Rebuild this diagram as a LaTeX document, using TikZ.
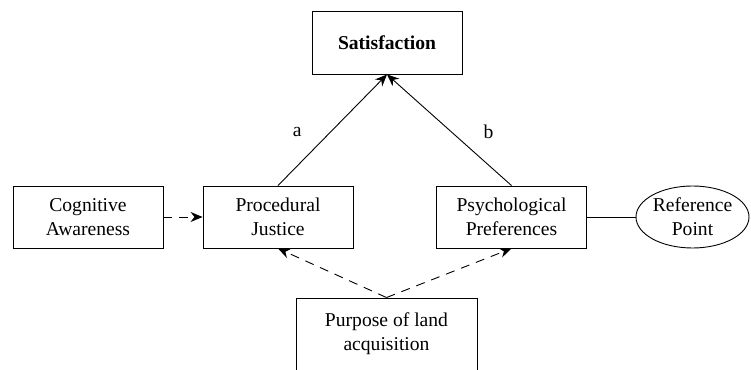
\documentclass[tikz,border=0pt]{standalone}
\usepackage{fontspec}
\setmainfont{Liberation Serif}
\usetikzlibrary{arrows.meta,shapes.geometric}
\begin{document}
\begin{tikzpicture}[x=1pt,y=1pt,line width=0.9pt]
            \tikzset{
                box/.style={draw,rectangle,minimum width=150pt,minimum height=62pt,align=center,inner sep=0pt},
                oval/.style={draw,ellipse,minimum width=113pt,minimum height=62pt,align=center,inner sep=0pt},
                path arrow/.style={-{Stealth[length=12pt,width=10pt]}},
                dash arrow/.style={-{Stealth[length=12pt,width=10pt]},dash pattern=on 9pt off 7pt},}
            \def\txt{\fontsize{19.6}{24}\selectfont}
            \clip (0,0) rectangle (751,369);
            \node [box,minimum height=63pt,font=\txt\bfseries] (sat) at (387,326.5) {Satisfaction};
            \node [box,font=\txt] (cog) at (88,152) {Cognitive\\Awareness};
            \node [box,font=\txt] (proc) at (278,152) {Procedural\\Justice};
            \node [box,font=\txt] (psych) at (511.5,152) {Psychological\\Preferences};
            \node [oval,font=\txt] (ref) at (692.5,152) {Reference\\Point};
            \node [box,minimum width=181pt,minimum height=72pt,font=\txt] (purp) at (386.5,35) {Purpose of land\\acquisition};
            \draw [path arrow] (proc.north) -- node [pos=0.48,left=25pt,font=\txt] {a} (sat.south);
            \draw [path arrow] (psych.north) -- node [pos=0.48,right=28pt,font=\txt] {b} (sat.south);
            \draw [dash arrow] (cog) -- (proc);
            \draw [dash arrow] (purp.north) -- (proc.south);
            \draw [dash arrow] (purp.north) -- (psych.south);
            \draw (psych) -- (ref);
        \end{tikzpicture}
\end{document}
